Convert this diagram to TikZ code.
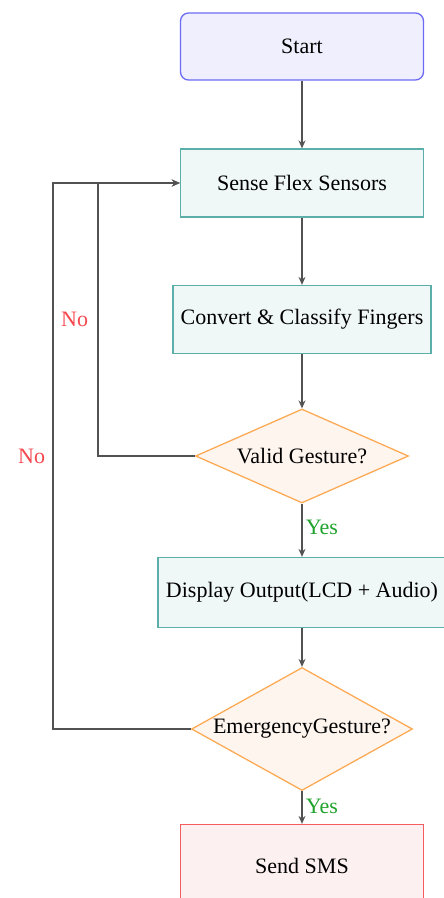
\documentclass[tikz,border=0pt]{standalone}
\usepackage{fontspec}
\setmainfont{Liberation Serif}
\usetikzlibrary{positioning, arrows.meta, calc, shapes.geometric}
\definecolor{startline}{HTML}{6B6BF5}
\definecolor{startfill}{HTML}{EFEFFD}
\definecolor{procline}{HTML}{5CAEA8}
\definecolor{procfill}{HTML}{F0F7F7}
\definecolor{askline}{HTML}{FDAA55}
\definecolor{askfill}{HTML}{FEF5EF}
\definecolor{smsline}{HTML}{F55B5F}
\definecolor{smsfill}{HTML}{FDF0F0}
\definecolor{noclr}{HTML}{F5484E}
\definecolor{yesclr}{HTML}{1FA32C}
\tikzset{
  flow/.style={
	x=1pt, y=-1pt, % one unit is one pixel of the picture, y going down
	node distance=136.5pt, % distance between the centres of two steps
	font=\fontsize{22}{26}\selectfont,
	>={Stealth[length=8pt, width=7pt]}, % filled arrow heads
	every edge/.style={draw=black!68, line width=1.2pt, ->}, % the connectors
  },
  link/.style={draw=black!68, line width=1.2pt, ->},
  startbox/.style={draw=startline, line width=1.3pt, fill=startfill, rounded corners=8pt, minimum width=243pt, minimum height=67pt},
  procbox/.style={draw=procline, line width=1.3pt, fill=procfill, minimum height=68pt},
  askbox/.style={diamond, draw=askline, line width=1.3pt, fill=askfill, inner sep=0pt},
  smsbox/.style={draw=smsline, line width=1.3pt, fill=smsfill, minimum width=243pt, minimum height=82pt},
  nolbl/.style={text=noclr},
  yeslbl/.style={text=yesclr},
}
\begin{document}
\begin{tikzpicture}[flow]
	  \useasboundingbox (0,0) rectangle (444,898);
	  \node[startbox] at (302,46.5) (start) {Start};
	  \node[procbox, below of=start, minimum width=243pt] (sense) {Sense Flex Sensors};
	  \node[procbox, below of=sense, minimum width=258pt] (conv) {Convert \& Classify Fingers};
	  \node[askbox, below of=conv, aspect=2.27, minimum width=213pt, minimum height=94pt] (valid) {Valid Gesture?};
	  \node[procbox, below of=valid, minimum width=288pt, minimum height=70pt] (disp) {Display Output(LCD + Audio)};
	  \node[askbox, below of=disp, aspect=1.8, minimum width=221pt, minimum height=123pt] (emerg) {EmergencyGesture?};
	  \node[smsbox, below of=emerg] (sms) {Send SMS};
	  \coordinate (loopa) at (98,183);
	  \coordinate (loopb) at (53,183);
	  \draw   (start) edge (sense)
		  (sense) edge (conv)
		  (conv) edge (valid)
		  (valid) edge node[right, yeslbl, yshift=3pt]{Yes} (disp)
		  (disp) edge (emerg)
		  (emerg) edge node[right, yeslbl, yshift=1pt]{Yes} (sms)
	  ;
	  \draw[link] (valid.west) -| (loopa)
		  node[pos=0.75, left, nolbl, xshift=-6pt]{No} -- (sense.west);
	  \draw[link] (emerg.west) -| (loopb)
		  node[pos=0.75, left, nolbl, xshift=-4pt]{No} -- (sense.west);
	  \end{tikzpicture}
\end{document}
